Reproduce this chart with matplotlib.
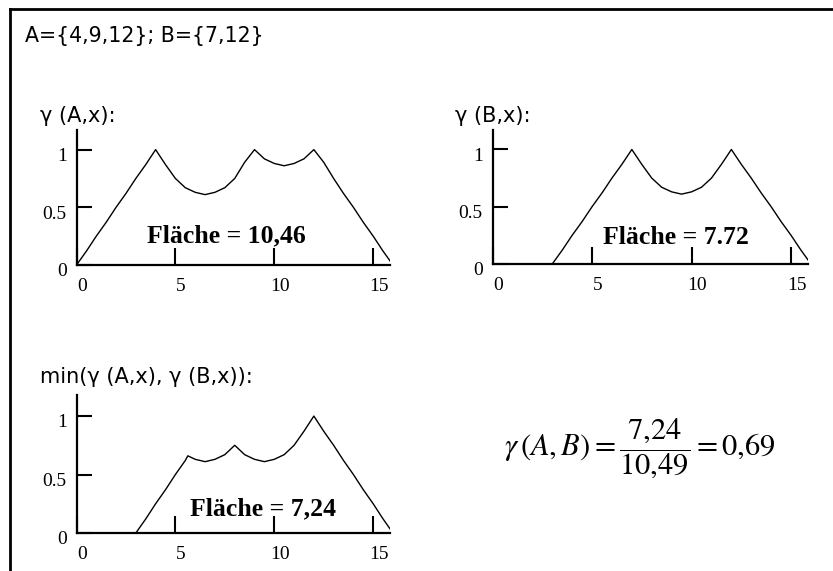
import matplotlib
matplotlib.use("Agg")
import matplotlib.pyplot as plt
from matplotlib.lines import Line2D
from matplotlib.transforms import ScaledTranslation

plt.rcParams["mathtext.fontset"] = "stix"

# membership values gamma(A,x), gamma(B,x) and their minimum
x_vals = [0, 0.5, 1, 1.5, 2, 2.5, 3, 3.5, 4, 4.5, 5, 5.5, 6, 6.5, 7, 7.5, 8,
          8.5, 9, 9.5, 10, 10.5, 11, 11.5, 12, 12.5, 13, 13.5, 14, 14.5, 15, 15.5, 16]
gamma_A = [0.00, 0.12, 0.25, 0.37, 0.50, 0.62, 0.75, 0.87, 1.00, 0.87, 0.75, 0.67,
           0.63, 0.61, 0.63, 0.67, 0.75, 0.89, 1.00, 0.92, 0.88, 0.86, 0.88, 0.92,
           1.00, 0.89, 0.75, 0.62, 0.50, 0.37, 0.25, 0.12, 0.00]
gamma_B = [0.00, 0.00, 0.00, 0.00, 0.00, 0.00, 0.00, 0.12, 0.25, 0.37, 0.50, 0.62,
           0.75, 0.87, 1.00, 0.87, 0.75, 0.67, 0.63, 0.61, 0.63, 0.67, 0.75, 0.87,
           1.00, 0.87, 0.75, 0.62, 0.50, 0.37, 0.25, 0.12, 0.00]
min_x = [0, 3, 3.5, 4, 4.5, 5, 5.5, 5.63, 6, 6.5, 7, 7.5, 8, 8.5, 9, 9.5, 10,
         10.5, 11, 11.5, 12, 12.5, 13, 13.5, 14, 14.5, 15, 15.5, 16]
gamma_min = [0.00, 0.00, 0.12, 0.25, 0.37, 0.50, 0.62, 0.66, 0.63, 0.61, 0.63, 0.67,
             0.75, 0.67, 0.63, 0.61, 0.63, 0.67, 0.75, 0.87, 1.00, 0.87, 0.75, 0.62,
             0.50, 0.37, 0.25, 0.12, 0.00]

x_ticks = [0, 5, 10, 15]
x_tick_labels = ["0", "5", "10", "15"]
y_ticks = [0, 0.5, 1]
y_tick_labels = ["0", "0.5", "1"]

title_text = "A={4,9,12}; B={7,12}"
panel_labels = ["γ (A,x):", "γ (B,x):", "min(γ (A,x), γ (B,x)):"]
area_labels = ["Fläche = 10,46", "Fläche = 7.72", "Fläche = 7,24"]
formula = r"$\gamma\,(A,B) = \dfrac{7{,}24}{10{,}49} = 0{,}69$"

W, H = 833, 571
fig = plt.figure(figsize=(W / 100, H / 100), dpi=100)
fig.patch.set_facecolor("white")


def fx(px):
    return px / W


def fy(py):
    return 1 - py / H


def make_axes(left, right, top, bottom, ytop):
    ax = fig.add_axes([fx(left), fy(bottom), fx(right - left), (bottom - top) / H])
    ax.set_xlim(0, 15.85)
    ax.set_ylim(0, ytop)
    for s in ("top", "right"):
        ax.spines[s].set_visible(False)
    for s in ("left", "bottom"):
        ax.spines[s].set_linewidth(1.6)
    ax.set_xticks(x_ticks)
    ax.set_yticks(y_ticks)
    ax.tick_params(axis="x", direction="in", length=12.5, width=1.5, pad=9.5)
    ax.tick_params(axis="y", direction="in", length=11, width=1.5, pad=7)
    ax.set_xticklabels(x_tick_labels, family="Liberation Serif", fontsize=14)
    ax.set_yticklabels(y_tick_labels, family="Liberation Serif", fontsize=14)
    # tick labels sit slightly right (x) and slightly low (y) of their ticks
    dx = ScaledTranslation(4 / 72, 0, fig.dpi_scale_trans)
    dy = ScaledTranslation(0, -3.5 / 72, fig.dpi_scale_trans)
    for lab in ax.get_xticklabels():
        lab.set_transform(lab.get_transform() + dx)
    for lab in ax.get_yticklabels():
        lab.set_transform(lab.get_transform() + dy)
    ax.patch.set_alpha(0)
    return ax


axA = make_axes(76.5, 390, 130, 265, 1.17)
axB = make_axes(492.5, 808, 130, 264, 1.17)
axM = make_axes(76.5, 390, 395, 533, 1.18)

for ax, xs, ys in ((axA, x_vals, gamma_A), (axB, x_vals, gamma_B), (axM, min_x, gamma_min)):
    ax.plot(xs, ys, color="black", lw=1.0)

# outer frame (top and left edges)
fig.add_artist(Line2D([fx(10), 1], [fy(9), fy(9)], transform=fig.transFigure,
                      color="black", lw=2))
fig.add_artist(Line2D([fx(10), fx(10)], [fy(9), 0], transform=fig.transFigure,
                      color="black", lw=2))

sans = "DejaVu Sans"
fig.text(fx(25), fy(41.7), title_text, family=sans, fontsize=14.8, va="baseline")
fig.text(fx(40), fy(122), panel_labels[0], family=sans, fontsize=15, va="baseline")
fig.text(fx(455), fy(122), panel_labels[1], family=sans, fontsize=15, va="baseline")
fig.text(fx(40), fy(383), panel_labels[2], family=sans, fontsize=15, va="baseline")

serif = "Liberation Serif"
fig.text(fx(147), fy(242.3), area_labels[0], family=serif, weight="bold",
         fontsize=18.5, va="baseline")
fig.text(fx(603), fy(244.3), area_labels[1], family=serif, weight="bold",
         fontsize=18.5, va="baseline")
fig.text(fx(190), fy(515), area_labels[2], family=serif, weight="bold",
         fontsize=18.5, va="baseline")

fig.text(fx(504), fy(449), formula, fontsize=22, va="center", ha="left")

fig.savefig("out.png", dpi=100, facecolor="white")
